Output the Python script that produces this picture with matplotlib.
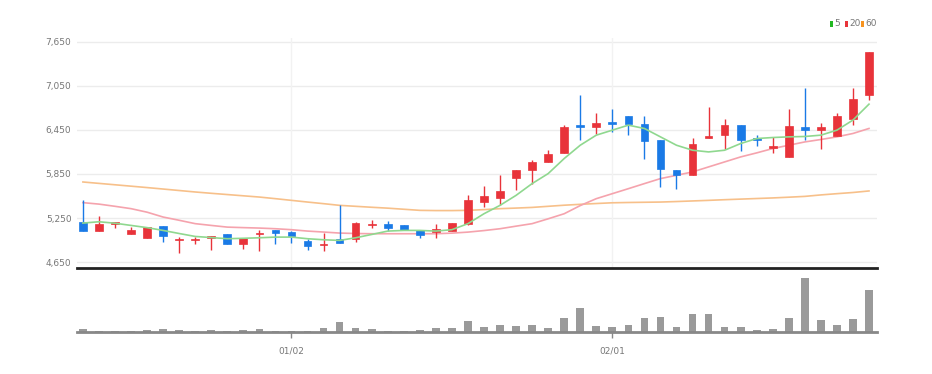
import numpy as np
import matplotlib.pyplot as plt
from matplotlib.patches import Rectangle

# 일봉 데이터 (시가, 고가, 저가, 종가)
opens = [5195, 5073, 5174, 5027, 4983, 5137, 4946, 4946, 4977, 5037,
         4891, 5027, 5092, 5059, 4937, 4878, 4969, 4969, 5150, 5174,
         5150, 5092, 5059, 5073, 5174, 5468, 5523, 5800, 5910, 6014,
         6142, 6505, 6491, 6551, 6641, 6528, 6310, 5900, 5842, 6337,
         6378, 6523, 6346, 6205, 6082, 6491, 6455, 6364, 6600, 6923]
highs = [5491, 5273, 5200, 5127, 5130, 5137, 4991, 4991, 5005, 5040,
         4980, 5092, 5092, 5073, 4964, 5046, 5423, 5200, 5228, 5210,
         5155, 5092, 5164, 5185, 5559, 5682, 5842, 5905, 6046, 6173,
         6510, 6923, 6674, 6728, 6641, 6637, 6310, 5905, 6346, 6755,
         6596, 6523, 6378, 6355, 6728, 7014, 6546, 6674, 7014, 7514]
lows = [5073, 5073, 5114, 5027, 4980, 4923, 4773, 4901, 4819, 4900,
        4833, 4800, 4891, 4910, 4819, 4800, 4905, 4923, 5119, 5073,
        5085, 4983, 4983, 5070, 5150, 5400, 5423, 5628, 5719, 6014,
        6142, 6319, 6391, 6423, 6378, 6060, 5673, 5651, 5842, 6337,
        6196, 6164, 6228, 6137, 6082, 6310, 6196, 6364, 6514, 6855]
closes = [5073, 5174, 5195, 5082, 5127, 5000, 4969, 4969, 5000, 4901,
          4977, 5046, 5046, 5005, 4869, 4901, 4910, 5187, 5174, 5119,
          5092, 5014, 5105, 5182, 5491, 5546, 5614, 5900, 6019, 6119,
          6491, 6490, 6546, 6535, 6524, 6300, 5924, 5842, 6264, 6364,
          6523, 6319, 6319, 6228, 6500, 6455, 6487, 6637, 6864, 7514]

# 이동평균선 (화면에서 읽은 값)
ma5 = [5182, 5200, 5180, 5150, 5120, 5082, 5040, 5000, 4985, 4969,
       4975, 4982, 4991, 4991, 4969, 4955, 4946, 4982, 5027, 5073,
       5082, 5082, 5073, 5092, 5174, 5309, 5423, 5559, 5719, 5855,
       6060, 6241, 6378, 6446, 6514, 6469, 6355, 6241, 6173, 6150,
       6173, 6264, 6332, 6346, 6355, 6360, 6378, 6446, 6583, 6800]
ma20 = [5460, 5440, 5410, 5378, 5330, 5264, 5220, 5174, 5150, 5127,
        5120, 5114, 5105, 5092, 5073, 5060, 5046, 5040, 5037, 5037,
        5037, 5037, 5037, 5045, 5059, 5080, 5105, 5140, 5174, 5240,
        5309, 5420, 5514, 5582, 5650, 5719, 5787, 5832, 5878, 5946,
        6014, 6082, 6137, 6196, 6241, 6286, 6319, 6355, 6401, 6469]
ma60 = [5741, 5722, 5703, 5684, 5665, 5645, 5625, 5605, 5587, 5570,
        5553, 5536, 5514, 5491, 5468, 5446, 5423, 5410, 5397, 5385,
        5370, 5355, 5352, 5352, 5355, 5365, 5378, 5386, 5395, 5410,
        5425, 5437, 5448, 5458, 5462, 5465, 5468, 5475, 5483, 5491,
        5500, 5508, 5516, 5524, 5534, 5545, 5565, 5582, 5598, 5619]

volume = [3.3, 1.3, 1.3, 1.3, 2.3, 3.0, 2.7, 1.3, 2.7, 1.3,
          2.7, 3.3, 1.3, 1.0, 1.3, 4.3, 10.0, 4.7, 3.0, 1.3,
          1.3, 2.7, 4.3, 4.3, 11.0, 5.7, 7.3, 6.0, 7.3, 4.3,
          14.0, 25.0, 6.0, 5.3, 7.3, 14.0, 15.7, 5.3, 18.3, 18.3,
          5.3, 5.7, 2.3, 3.0, 14.7, 55.0, 12.3, 7.3, 13.0, 43.0]

price_ticks = [4650, 5250, 5850, 6450, 7050, 7650]
date_ticks = [13, 33]
date_labels = ['01/02', '02/01']
legend_labels = ['5', '20', '60']
legend_colors = ['#22b822', '#e8333a', '#f7931e']

red = '#e8333a'
blue = '#1a7ae6'
narrow = ['Liberation Sans Narrow', 'DejaVu Sans']

fig = plt.figure(figsize=(9.32, 3.74), dpi=100)
ax = fig.add_axes([0.0826, 0.2821, 0.8584, 0.6163])
axv = fig.add_axes([0.0826, 0.111, 0.8584, 0.167])

x = np.arange(len(opens))
w = 0.48

# 격자
for t in price_ticks:
    ax.axhline(t, color='#ececec', linewidth=1, zorder=0)
for t in date_ticks:
    ax.axvline(t, color='#f2f2f2', linewidth=1, zorder=0)

# 이동평균선
ax.plot(x, ma60, color='#f7c08a', linewidth=1.2, zorder=1)
ax.plot(x, ma20, color='#f5a3ad', linewidth=1.2, zorder=1)
ax.plot(x, ma5, color='#8fd88f', linewidth=1.2, zorder=3)

# 캔들
for i in range(len(opens)):
    o, h, l, c = opens[i], highs[i], lows[i], closes[i]
    col = red if c >= o else blue
    ax.vlines(i, l, h, color=col, linewidth=1, zorder=2)
    bottom = min(o, c)
    height = max(abs(c - o), 20)
    ax.add_patch(Rectangle((i - w / 2, bottom), w, height, facecolor=col,
                           edgecolor=col, linewidth=0.5, zorder=2))

ax.set_xlim(-0.37, 49.5)
ax.set_ylim(4564, 7700)
ax.set_yticks(price_ticks)
ax.set_yticklabels([f'{t:,}' for t in price_ticks])
ax.set_xticks([])
ax.tick_params(axis='y', length=0, pad=4, labelsize=6.5, labelcolor='#777777')
for lbl in ax.get_yticklabels():
    lbl.set_family(narrow)
for s in ['top', 'right', 'left']:
    ax.spines[s].set_visible(False)
ax.spines['bottom'].set_color('#222222')
ax.spines['bottom'].set_linewidth(2)

# 범례 (오른쪽 위)
leg_x = [830, 845, 861]
for px, lab, col in zip(leg_x, legend_labels, legend_colors):
    fig.patches.append(Rectangle((px / 932, 1 - 27 / 374), 3 / 932, 6 / 374,
                                 transform=fig.transFigure, facecolor=col,
                                 edgecolor='none'))
    fig.text((px + 4.5) / 932, 1 - 24 / 374, lab, fontsize=6.5, color='#777777',
             ha='left', va='center', family=narrow)

# 거래량
axv.bar(x, volume, width=w, color='#9a9a9a', zorder=2)
axv.set_xlim(-0.37, 49.5)
axv.set_ylim(0, 62.5)
axv.set_yticks([])
axv.set_xticks(date_ticks)
axv.set_xticklabels(date_labels)
axv.tick_params(axis='x', length=4, width=1, color='#888888', pad=6,
                labelsize=6.5, labelcolor='#777777')
for lbl in axv.get_xticklabels():
    lbl.set_family(narrow)
for s in ['top', 'right', 'left']:
    axv.spines[s].set_visible(False)
axv.spines['bottom'].set_color('#888888')
axv.spines['bottom'].set_linewidth(2)

plt.savefig('out.png', dpi=100)
